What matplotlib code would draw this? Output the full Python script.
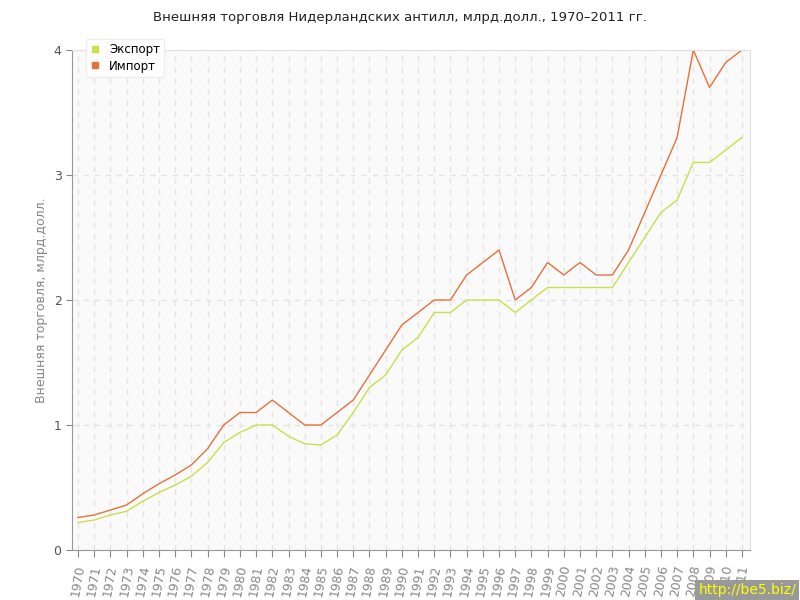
import matplotlib
matplotlib.use("Agg")
import matplotlib.pyplot as plt
from matplotlib.lines import Line2D

years = list(range(1970, 2012))
export = [0.22, 0.24, 0.28, 0.31, 0.39, 0.46, 0.52, 0.59, 0.70, 0.86,
          0.94, 1.0, 1.0, 0.91, 0.85, 0.84, 0.92, 1.1, 1.3, 1.4,
          1.6, 1.7, 1.9, 1.9, 2.0, 2.0, 2.0, 1.9, 2.0, 2.1,
          2.1, 2.1, 2.1, 2.1, 2.3, 2.5, 2.7, 2.8, 3.1, 3.1,
          3.2, 3.3]
imports = [0.26, 0.28, 0.32, 0.36, 0.45, 0.53, 0.60, 0.68, 0.81, 1.0,
           1.1, 1.1, 1.2, 1.1, 1.0, 1.0, 1.1, 1.2, 1.4, 1.6,
           1.8, 1.9, 2.0, 2.0, 2.2, 2.3, 2.4, 2.0, 2.1, 2.3,
           2.2, 2.3, 2.2, 2.2, 2.4, 2.7, 3.0, 3.3, 4.0, 3.7,
           3.9, 4.0]

c_exp = "#c8e04a"
c_imp = "#e8703a"

fig = plt.figure(figsize=(8, 6), dpi=100)
ax = fig.add_axes([0.09, 0.0833, 0.8475, 0.8334])
ax.set_facecolor("#fafafa")

ax.plot(years, export, color=c_exp, lw=1)
ax.plot(years, imports, color=c_imp, lw=1)

ax.set_xlim(1969.63, 2011.5)
ax.set_ylim(0, 4)
ax.set_xticks(years)
ax.set_xticklabels([str(y) for y in years], rotation=80, color="#aaaaaa", fontsize=9)
ax.set_yticks([0, 1, 2, 3, 4])
ax.tick_params(axis="y", colors="#888888", labelsize=9, length=4, labelcolor="#555555")
ax.tick_params(axis="x", colors="#888888", length=5, pad=5)
ax.grid(True, color="#e4e4e4", linestyle=(0, (4, 4)), lw=1)

for s in ["left", "bottom"]:
    ax.spines[s].set_color("#999999")
for s in ["top", "right"]:
    ax.spines[s].set_color("#e0e0e0")

ax.set_ylabel("Внешняя торговля, млрд.долл.", color="#888888", fontsize=9)
fig.text(0.5, 0.97, "Внешняя торговля Нидерландских антилл, млрд.долл., 1970–2011 гг.",
         ha="center", va="center", fontsize=9.5, color="#222222")

handles = [Line2D([], [], ls="none", marker="s", markersize=5, color=c_exp),
           Line2D([], [], ls="none", marker="s", markersize=5, color=c_imp)]
leg = fig.legend(handles, ["Экспорт", "Импорт"], loc="upper left",
                 bbox_to_anchor=(0.1, 0.945), fontsize=8.5, frameon=True,
                 fancybox=True, handlelength=0.8, handletextpad=0.8,
                 borderpad=0.35, labelspacing=0.3, framealpha=1)
leg.get_frame().set_edgecolor("#eeeeee")

fig.text(0.995, 0.005, "http://be5.biz/", ha="right", va="bottom", color="#ffff00",
         fontsize=10, bbox=dict(facecolor="#999999", edgecolor="none", pad=2))

fig.savefig("out.png")
